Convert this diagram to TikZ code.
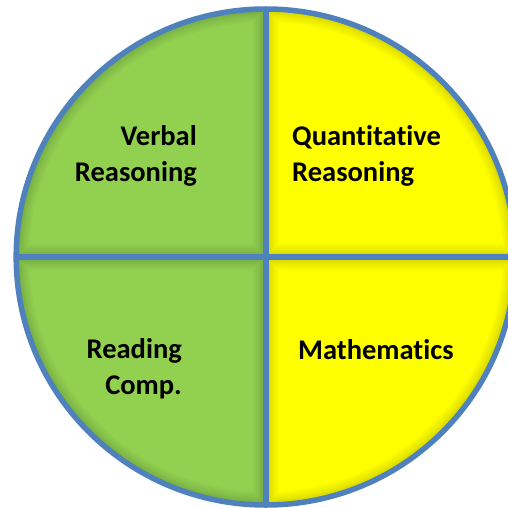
\documentclass[tikz,border=0pt]{standalone}
\usepackage{fontspec}
\usetikzlibrary{shapes.geometric}
\setmainfont{Carlito}[Ligatures={NoCommon}]
\definecolor{rimblue}{HTML}{4F81BD}
\definecolor{leafgreen}{HTML}{92D050}
\definecolor{sunyellow}{HTML}{FFFF00}
\tikzset{
  rim/.style={draw=rimblue, line width=5.5pt},
  label/.style={font=\fontsize{28.5}{35.5}\selectfont\bfseries, inner sep=0pt, text=black},
}
\newcommand{\glowq}[2]{%
  \begin{scope}
    \clip #1;
    \fill[#2] #1;
    \foreach \w in {26,22,18,14,11,8,5,3}{
      \draw[black, opacity=0.022, line width=\w pt] #1;
    }
  \end{scope}}
\begin{document}
\begin{tikzpicture}[x=1pt,y=-1pt]
\useasboundingbox (0,0) rectangle (507,508);
\def\cx{265.7}\def\cy{257}
% quadrants (y axis points down: angle 90 = down, 270 = up)
\glowq{(\cx,\cy) -- (16.2,\cy) arc[start angle=180, end angle=270, x radius=249.5, y radius=248] -- cycle}{leafgreen}
\glowq{(\cx,\cy) -- (\cx,9) arc[start angle=270, end angle=360, x radius=249.5, y radius=248] -- cycle}{sunyellow}
\glowq{(\cx,\cy) -- (16.2,\cy) arc[start angle=180, end angle=90, x radius=249.5, y radius=248] -- cycle}{leafgreen}
\glowq{(\cx,\cy) -- (\cx,505) arc[start angle=90, end angle=0, x radius=249.5, y radius=248] -- cycle}{sunyellow}
% rim and dividers
\node[rim, ellipse, minimum width=499pt, minimum height=496pt, inner sep=0pt] (disc) at (\cx,\cy) {};
\coordinate (top) at (\cx,9);
\coordinate (bot) at (\cx,505);
\coordinate (lft) at (16.2,\cy);
\coordinate (rgt) at (515.2,\cy);
\draw[rimblue, line width=6pt] (top) -- (bot);
\draw[rimblue, line width=6pt] (lft) -- (rgt);
% labels (base = baseline of last line)
\node[label, align=right, anchor=base east] (verbal) at (197,181) {Verbal\\Reasoning};
\node[label, align=left, anchor=base west] (quant) at (292,181) {Quantitative\\Reasoning};
\node[label, align=right, anchor=base east] (reading) at (182,394) {Reading\\Comp.};
\node[label, anchor=base west] (math) at (298,359) {Mathematics};
\end{tikzpicture}
\end{document}
